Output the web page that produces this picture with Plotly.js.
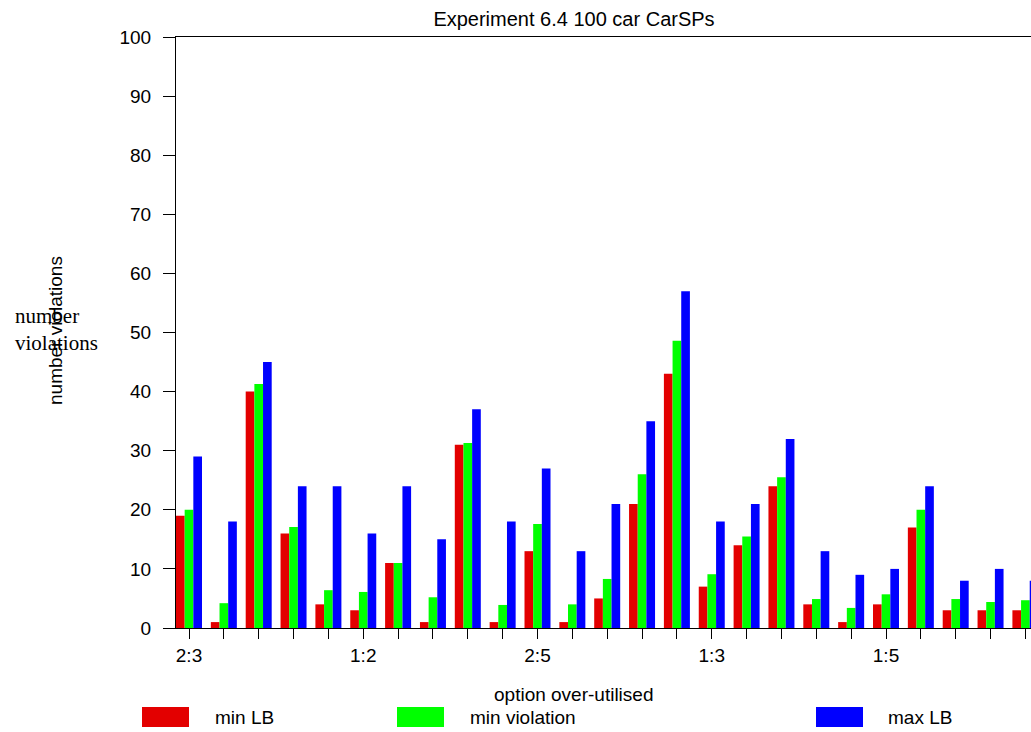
<!DOCTYPE html>
<html>
<head>
<meta charset="utf-8">
<script src="https://cdn.plot.ly/plotly-3.0.1.min.js"></script>
<style>
  html, body { margin: 0; padding: 0; background: #fff; }
  #chart { width: 1031px; height: 732px; }
</style>
</head>
<body>
<div id="chart"></div>
<script>
// ---- data ----
const groups = [1,2,3,4,5,6,7,8,9,10,11,12,13,14,15,16,17,18,19,20,21,22,23,24,25];
const tickLabels = ["2:3","","","","","1:2","","","","","2:5","","","","","1:3","","","","","1:5","","","",""];
const seriesNames = ["min LB", "min violation", "max LB"];
const minLB   = [19, 1, 40, 16, 4, 3, 11, 1, 31, 1, 13, 1, 5, 21, 43, 7, 14, 24, 4, 1, 4, 17, 3, 3, 3];
const minViol = [20, 4.2, 41.3, 17.1, 6.4, 6.1, 11, 5.2, 31.3, 3.9, 17.6, 4.0, 8.3, 26.0, 48.6, 9.1, 15.5, 25.5, 4.9, 3.4, 5.7, 20.0, 4.9, 4.4, 4.7];
const maxLB   = [29, 18, 45, 24, 24, 16, 24, 15, 37, 18, 27, 13, 21, 35, 57, 18, 21, 32, 13, 9, 10, 24, 8, 10, 8];
const colors = ["#e30000", "#00ff00", "#0000ff"];

// ---- layout geometry (pixels) ----
const W = 1031, H = 732;
const M = {l: 176, r: 0, t: 37, b: 104};
const plotW = W - M.l - M.r, plotH = H - M.t - M.b;
const px2x = p => (p - M.l) / plotW;
const py2y = p => (H - M.b - p) / plotH;

const font = "Liberation Sans, Arial, sans-serif";
const values = [minLB, minViol, maxLB];

const traces = values.map((v, i) => ({
  type: "bar",
  x: groups,
  y: v,
  name: seriesNames[i],
  marker: {color: colors[i], line: {width: 0}},
  showlegend: false,
  hoverinfo: "x+y+name"
}));

// manual legend
const legRectX = [142, 397, 816];
const legTextX = [213, 468, 886];
const legW = 47, legTop = 707, legBot = 727, legMid = 717;
const shapes = [];
const annotations = [];
seriesNames.forEach((n, i) => {
  shapes.push({
    type: "rect", xref: "paper", yref: "paper",
    x0: px2x(legRectX[i]), x1: px2x(legRectX[i] + legW),
    y0: py2y(legBot), y1: py2y(legTop),
    fillcolor: colors[i], line: {width: 0}
  });
  annotations.push({
    xref: "paper", yref: "paper",
    x: px2x(legTextX[i]), y: py2y(legMid),
    xanchor: "left", yanchor: "middle",
    text: n, showarrow: false,
    font: {family: font, size: 19, color: "#000"}
  });
});

// x-axis title
annotations.push({
  xref: "paper", yref: "paper",
  x: px2x(573), y: py2y(694),
  xanchor: "center", yanchor: "middle",
  text: "option over-utilised", showarrow: false,
  font: {family: font, size: 19, color: "#000"}
});
// rotated y-axis title
annotations.push({
  xref: "paper", yref: "paper",
  x: px2x(55), y: py2y(331),
  xanchor: "center", yanchor: "middle",
  text: "number violations", showarrow: false, textangle: -90,
  font: {family: font, size: 19, color: "#000"}
});
// overlapping serif label
annotations.push({
  xref: "paper", yref: "paper",
  x: px2x(13), y: py2y(329),
  xanchor: "left", yanchor: "middle", align: "left",
  text: "number<br>violations", showarrow: false,
  font: {family: "Liberation Serif, Times New Roman, serif", size: 21, color: "#000"}
});

const layout = {
  width: W, height: H,
  margin: M,
  paper_bgcolor: "#fff", plot_bgcolor: "#fff",
  font: {family: font, size: 19, color: "#000"},
  title: {
    text: "Experiment 6.4 100 car CarSPs",
    font: {family: font, size: 20, color: "#000"},
    xref: "container", yref: "container",
    x: 574 / W, xanchor: "center",
    y: 1 - 19 / H, yanchor: "middle"
  },
  barmode: "group",
  bargap: 0.254,
  bargroupgap: 0,
  xaxis: {
    range: [1 - 13 / 34.85, 1 + (W - M.r - 189) / 34.85],
    tickmode: "array",
    tickvals: groups,
    ticktext: tickLabels,
    ticks: "outside", ticklen: 10, tickwidth: 1, tickcolor: "#000",
    showline: true, linecolor: "#000", linewidth: 1, mirror: true,
    showgrid: false, zeroline: false,
    tickfont: {family: font, size: 19, color: "#000"},
    automargin: false, fixedrange: true
  },
  yaxis: {
    range: [0, 100],
    tickmode: "linear", tick0: 0, dtick: 10,
    ticks: "outside", ticklen: 12, tickwidth: 1, tickcolor: "#000",
    showline: true, linecolor: "#000", linewidth: 1,
    showgrid: false, zeroline: false,
    tickfont: {family: font, size: 19, color: "#000"},
    ticklabelstandoff: 8,
    automargin: false, fixedrange: true
  },
  shapes: shapes,
  annotations: annotations
};

Plotly.newPlot("chart", traces, layout, {displayModeBar: false, staticPlot: true});
</script>
</body>
</html>
